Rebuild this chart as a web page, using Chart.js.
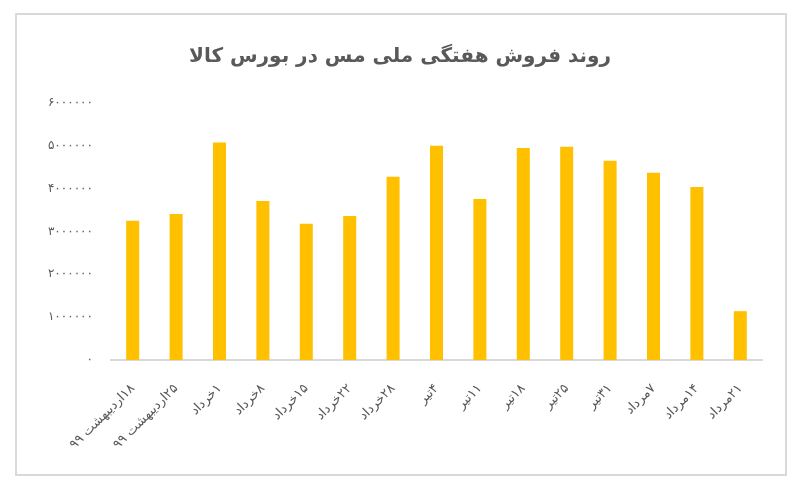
<!DOCTYPE html>
<html>
<head>
<meta charset="utf-8">
<script src="https://cdn.jsdelivr.net/npm/chart.js@4"></script>
<style>
  body { margin: 0; background: #fff; }
  #wrap { position: relative; width: 808px; height: 495px; }
  #frame { position: absolute; left: 15px; top: 13px; width: 768px; height: 459px;
           border: 2px solid #d9d9d9; pointer-events: none; }
</style>
</head>
<body>
<div id="wrap">
  <canvas id="sales-chart" width="808" height="495" dir="rtl"></canvas>
  <div id="frame"></div>
</div>
<script>
// weekly sales data
const weeks = ['۱۸اردیبهشت ۹۹', '۲۵اردیبهشت ۹۹', '۱خرداد', '۸خرداد', '۱۵خرداد', '۲۲خرداد', '۲۸خرداد',
    '۴تیر', '۱۱تیر', '۱۸تیر', '۲۵تیر', '۳۱تیر', '۷مرداد', '۱۴مرداد', '۲۱مرداد'];
const sales = [3250000, 3410000, 5080000, 3710000, 3180000, 3360000, 4280000,
    5000000, 3760000, 4950000, 4980000, 4650000, 4370000, 4040000, 1140000];
const chartTitle = 'روند فروش هفتگی ملی مس در بورس کالا';
const yMax = 6000000;
const yStep = 1000000;

// turn latin digits into persian ones
function toPersian(n) {
    const digits = '۰۱۲۳۴۵۶۷۸۹';
    return String(n).replace(/[0-9]/g, d => digits[d]);
}

const textColor = '#595959';
const font = 'DejaVu Sans';

const data = {
    labels: weeks,
    datasets: [{
        data: sales,
        backgroundColor: '#FFC000',
        borderWidth: 0,
        categoryPercentage: 1,
        barPercentage: 0.3
    }]
};

const config = {
    type: 'bar',
    data,
    options: {
        responsive: false,
        animation: false,
        layout: { padding: { top: 45, left: 38, right: 46, bottom: 0 } },
        plugins: {
            legend: { display: false },
            tooltip: { enabled: false },
            title: {
                display: true,
                text: chartTitle,
                color: textColor,
                font: { family: font, size: 20, weight: 'bold' },
                padding: { top: 0, bottom: 34 }
            }
        },
        scales: {
            x: {
                grid: { display: false },
                border: { display: true, color: '#d9d9d9', width: 2 },
                ticks: {
                    color: textColor,
                    font: { family: font, size: 13 },
                    minRotation: 45,
                    maxRotation: 45,
                    padding: 13
                },
                afterFit: (scale) => { scale.height = 135; }
            },
            y: {
                min: 0,
                max: yMax,
                grid: { display: false, drawTicks: false },
                border: { display: false },
                ticks: {
                    stepSize: yStep,
                    color: textColor,
                    font: { family: font, size: 12 },
                    padding: 18,
                    callback: (v) => toPersian(v)
                },
                afterFit: (scale) => { scale.width = 73; }
            }
        }
    }
};

const salesChart = new Chart(document.getElementById('sales-chart'), config);
</script>
</body>
</html>
